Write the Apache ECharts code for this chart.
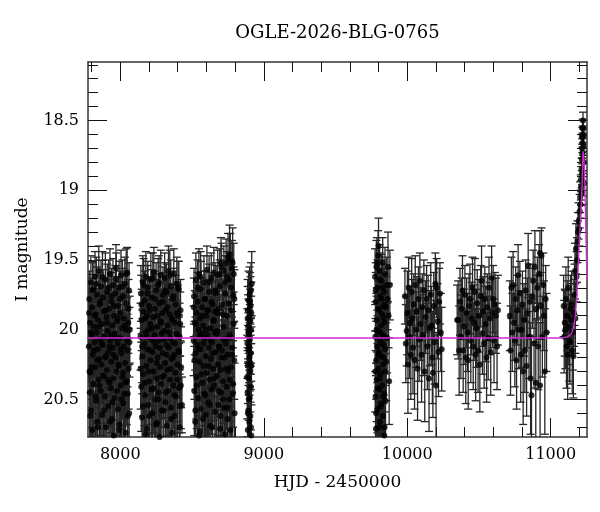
<!DOCTYPE html>
<html>
<head>
<meta charset="utf-8">
<title>OGLE-2026-BLG-0765</title>
<script src="https://cdn.jsdelivr.net/npm/echarts@6/dist/echarts.min.js"></script>
<style>
html, body { margin: 0; padding: 0; background: #fff; }
#chart { width: 600px; height: 512px; }
</style>
</head>
<body>
<div id="chart"></div>
<script>
// observations per season: [HJD - 2450000, I mag, error]
var obs2017 = [
    [7781,20.12,0.26],[7784,19.78,0.20],[7787,20.45,0.33],[7790,19.95,0.22],[7792,20.31,0.30],[7795,19.66,0.19],
    [7797,20.58,0.36],[7800,20.04,0.24],[7803,19.84,0.21],[7805,20.72,0.38],[7808,20.18,0.27],[7810,19.71,0.20],
    [7813,20.39,0.31],[7816,19.98,0.23],[7818,20.86,0.40],[7821,20.09,0.25],[7824,19.62,0.18],[7826,20.27,0.29],
    [7829,19.89,0.22],[7832,20.51,0.34],[7834,20.02,0.24],[7837,19.75,0.20],[7840,20.66,0.37],[7842,20.14,0.26],
    [7845,19.93,0.22],[7848,20.36,0.31],[7850,19.58,0.18],[7853,20.21,0.28],[7856,20.79,0.39],[7858,19.82,0.21],
    [7861,20.07,0.25],[7864,20.44,0.32],[7866,19.69,0.19],[7869,20.25,0.28],[7872,19.96,0.23],[7874,20.61,0.35],
    [7877,20.11,0.26],[7880,19.77,0.20],[7882,20.93,0.42],[7885,20.33,0.30],[7888,19.87,0.22],[7890,20.05,0.24],
    [7893,20.48,0.33],[7896,19.64,0.19],[7898,20.19,0.27],[7901,20.70,0.37],[7904,19.91,0.22],[7906,20.29,0.29],
    [7909,19.73,0.20],[7912,20.01,0.24],[7914,20.55,0.34],[7917,20.16,0.26],[7920,19.85,0.21],[7922,20.83,0.40],
    [7925,20.38,0.31],[7928,19.60,0.18],[7930,20.08,0.25],[7933,20.42,0.32],[7936,19.80,0.21],[7938,20.23,0.28],
    [7941,20.64,0.36],[7944,19.97,0.23],[7946,20.13,0.26],[7949,19.68,0.19],[7952,20.35,0.30],[7954,20.76,0.38],
    [7957,19.90,0.22],[7960,20.03,0.24],[7962,20.49,0.33],[7965,19.74,0.20],[7968,20.20,0.27],[7970,19.56,0.17],
    [7973,20.30,0.29],[7976,20.97,0.43],[7978,19.94,0.23],[7981,20.10,0.25],[7984,20.57,0.35],[7986,19.83,0.21],
    [7989,20.26,0.28],[7992,19.70,0.19],[7994,20.68,0.37],[7997,20.06,0.24],[8000,19.88,0.22],[8002,20.40,0.31],
    [8005,19.61,0.18],[8008,20.17,0.27],[8010,20.81,0.40],[8013,19.99,0.23],[8016,20.34,0.30],[8018,19.76,0.20],
    [8021,20.53,0.34],[8024,20.12,0.26],[8026,19.92,0.22],[8029,20.46,0.32],[8032,19.67,0.19],[8034,20.24,0.28],
    [8037,20.74,0.38],[8040,20.00,0.24],[8042,19.81,0.21],[8045,20.37,0.31],[8048,19.59,0.18],[8050,20.15,0.26],
    [8053,20.62,0.36],[8056,19.95,0.22],[8058,20.28,0.29],[8061,19.72,0.20],[8064,20.09,0.25],
    [7782.5,19.88,0.22],[7786,20.30,0.30],[7791,20.62,0.36],[7796,20.02,0.24],[7802,20.27,0.29],[7807,19.72,0.20],
    [7812,20.85,0.41],[7817,20.15,0.26],[7823,19.90,0.22],[7828,20.48,0.33],[7833,19.67,0.19],[7839,20.22,0.28],
    [7844,20.70,0.37],[7849,19.98,0.23],[7855,20.40,0.31],[7860,19.80,0.21],[7865,20.95,0.43],[7871,20.10,0.25],
    [7876,19.62,0.18],[7881,20.33,0.30],[7887,20.58,0.35],[7892,19.86,0.22],[7897,20.20,0.27],[7903,20.78,0.39],
    [7908,19.95,0.23],[7913,20.36,0.31],[7919,19.70,0.20],[7924,20.12,0.26],[7929,20.66,0.37],[7935,20.04,0.24],
    [7940,19.76,0.20],[7945,20.52,0.34],[7951,20.18,0.27],[7956,19.83,0.21],[7961,20.88,0.41],[7967,20.06,0.25],
    [7972,19.64,0.19],[7977,20.44,0.32],[7983,19.92,0.22],[7988,20.25,0.28],[7993,20.72,0.38],[7999,19.78,0.20],
    [8004,20.14,0.26],[8009,20.50,0.33],[8015,19.69,0.19],[8020,20.31,0.29],[8025,20.92,0.42],[8031,19.97,0.23],
    [8036,20.38,0.31],[8041,19.60,0.18],[8047,20.08,0.25],[8052,20.46,0.32],[8057,19.85,0.21],[8062,20.60,0.35],
    [8066,20.00,0.24]
];
var obs2018 = [
    [8141,20.05,0.24],[8144,19.74,0.20],[8146,20.41,0.32],[8149,19.93,0.22],[8152,20.63,0.36],[8154,20.19,0.27],
    [8157,19.66,0.19],[8160,20.32,0.30],[8162,19.87,0.22],[8165,20.88,0.41],[8168,20.10,0.25],[8170,19.79,0.21],
    [8173,20.47,0.33],[8176,20.02,0.24],[8178,19.62,0.18],[8181,20.26,0.28],[8184,20.71,0.38],[8186,19.90,0.22],
    [8189,20.14,0.26],[8192,19.70,0.19],[8194,20.54,0.34],[8197,20.00,0.24],[8200,19.83,0.21],[8202,20.37,0.31],
    [8205,20.80,0.39],[8208,19.96,0.23],[8210,20.22,0.28],[8213,19.64,0.19],[8216,20.43,0.32],[8218,20.07,0.25],
    [8221,19.77,0.20],[8224,20.60,0.35],[8226,20.16,0.26],[8229,19.91,0.22],[8232,20.30,0.29],[8234,19.59,0.18],
    [8237,20.94,0.42],[8240,20.04,0.24],[8242,19.85,0.21],[8245,20.50,0.33],[8248,20.12,0.26],[8250,19.72,0.20],
    [8253,20.35,0.30],[8256,20.67,0.37],[8258,19.98,0.23],[8261,20.20,0.27],[8264,19.68,0.19],[8266,20.45,0.32],
    [8269,20.08,0.25],[8272,19.81,0.21],[8274,20.77,0.39],[8277,20.27,0.28],[8280,19.94,0.23],[8282,19.61,0.18],
    [8285,20.39,0.31],[8288,20.03,0.24],[8290,20.58,0.35],[8293,19.88,0.22],[8296,20.17,0.26],[8298,19.75,0.20],
    [8301,20.85,0.40],[8304,20.33,0.30],[8306,20.01,0.24],[8309,19.63,0.18],[8312,20.24,0.28],[8314,20.52,0.34],
    [8317,19.86,0.22],[8320,20.11,0.25],[8322,19.73,0.20],[8325,20.69,0.37],[8328,20.29,0.29],[8330,19.97,0.23],
    [8333,20.44,0.32],[8336,19.58,0.18],[8338,20.13,0.26],[8341,20.90,0.42],[8344,19.89,0.22],[8346,20.36,0.30],
    [8349,20.06,0.24],[8352,19.69,0.19],[8354,20.56,0.35],[8357,20.21,0.27],[8360,19.92,0.22],[8362,20.74,0.38],
    [8365,20.09,0.25],[8368,19.78,0.20],[8370,20.40,0.31],[8373,19.60,0.18],[8376,20.18,0.27],[8378,20.62,0.36],
    [8381,19.95,0.23],[8384,20.31,0.29],[8386,19.82,0.21],[8389,20.48,0.33],[8392,20.03,0.24],[8394,19.67,0.19],
    [8397,20.25,0.28],[8400,20.83,0.40],[8402,19.90,0.22],[8405,20.15,0.26],[8408,19.71,0.20],[8410,20.42,0.32],
    [8413,20.05,0.24],[8416,20.55,0.36],[8420,19.86,0.22],[8424,20.27,0.29],[8430,20.54,0.20],
    [8142,20.28,0.29],[8147,19.82,0.21],[8153,20.12,0.26],[8158,20.55,0.34],[8163,19.68,0.19],[8169,20.38,0.31],
    [8174,19.92,0.22],[8179,20.75,0.39],[8185,20.05,0.24],[8190,19.74,0.20],[8195,20.30,0.29],[8201,20.62,0.36],
    [8206,19.86,0.22],[8211,20.15,0.26],[8217,20.84,0.40],[8222,19.99,0.23],[8227,19.63,0.18],[8233,20.42,0.32],
    [8238,20.09,0.25],[8243,19.78,0.20],[8249,20.68,0.37],[8254,20.24,0.28],[8259,19.90,0.22],[8265,20.50,0.33],
    [8270,19.66,0.19],[8275,20.13,0.26],[8281,20.92,0.42],[8286,19.95,0.23],[8291,20.34,0.30],[8297,19.80,0.21],
    [8302,20.58,0.35],[8307,20.07,0.25],[8313,19.72,0.20],[8318,20.45,0.32],[8323,20.18,0.27],[8329,19.84,0.21],
    [8334,20.79,0.39],[8339,20.02,0.24],[8345,19.61,0.18],[8350,20.28,0.29],[8355,20.64,0.36],[8361,19.93,0.22],
    [8366,20.20,0.27],[8371,19.76,0.20],[8377,20.47,0.33],[8382,20.10,0.25],[8387,20.86,0.41],[8393,19.88,0.22],
    [8398,20.36,0.30],[8403,19.70,0.19],[8409,20.16,0.26],[8414,20.70,0.38],[8418,19.96,0.23],[8422,20.40,0.31]
];
var obs2019 = [
    [8511,20.08,0.25],[8514,19.76,0.20],[8516,20.44,0.32],[8519,19.95,0.23],[8522,20.66,0.37],[8524,20.17,0.26],
    [8527,19.64,0.19],[8530,20.34,0.30],[8532,19.88,0.22],[8535,20.86,0.41],[8538,20.11,0.25],[8540,19.80,0.21],
    [8543,20.49,0.33],[8546,20.00,0.24],[8548,19.60,0.18],[8551,20.23,0.28],[8554,20.73,0.38],[8556,19.92,0.22],
    [8559,20.14,0.26],[8562,19.71,0.20],[8564,20.57,0.35],[8567,20.03,0.24],[8570,19.84,0.21],[8572,20.38,0.31],
    [8575,20.95,0.43],[8578,19.97,0.23],[8580,20.26,0.28],[8583,19.66,0.19],[8586,20.46,0.32],[8588,20.06,0.25],
    [8591,19.78,0.20],[8594,20.61,0.36],[8596,20.19,0.27],[8599,19.90,0.22],[8602,20.31,0.29],[8604,19.57,0.17],
    [8607,20.80,0.40],[8610,20.04,0.24],[8612,19.86,0.21],[8615,20.52,0.34],[8618,20.13,0.26],[8620,19.73,0.20],
    [8623,20.36,0.30],[8626,20.69,0.37],[8628,19.99,0.23],[8631,20.21,0.28],[8634,19.63,0.18],[8636,20.43,0.32],
    [8639,20.09,0.25],[8642,19.82,0.21],[8644,20.78,0.39],[8647,20.28,0.29],[8650,19.94,0.23],[8652,19.59,0.18],
    [8655,20.40,0.31],[8658,20.02,0.24],[8660,20.59,0.35],[8663,19.87,0.22],[8666,20.16,0.26],[8668,19.74,0.20],
    [8671,20.89,0.42],[8674,20.33,0.30],[8676,20.01,0.24],[8679,19.61,0.18],[8682,20.25,0.28],[8684,20.54,0.34],
    [8687,19.85,0.21],[8690,20.12,0.26],[8692,19.69,0.19],[8695,20.71,0.38],[8698,20.29,0.29],[8702,19.52,0.18],
    [8703,20.45,0.32],[8706,19.55,0.17],[8708,20.15,0.26],[8711,20.92,0.42],[8714,19.89,0.22],[8716,20.37,0.30],
    [8719,20.07,0.24],[8722,19.58,0.18],[8724,20.56,0.35],[8727,20.20,0.27],[8730,19.66,0.19],[8732,20.75,0.38],
    [8735,20.10,0.25],[8738,19.52,0.17],[8740,20.41,0.31],[8743,19.62,0.18],[8746,20.18,0.27],[8748,20.64,0.36],
    [8751,19.48,0.17],[8754,20.30,0.29],[8756,19.81,0.21],[8759,20.50,0.33],[8762,19.46,0.21],[8764,20.04,0.24],
    [8767,19.50,0.19],[8770,20.27,0.28],[8772,19.70,0.20],[8775,20.84,0.40],[8778,19.56,0.20],[8780,20.13,0.26],
    [8783,19.52,0.25],[8786,20.39,0.31],[8788,19.75,0.20],[8791,19.60,0.22],[8794,20.22,0.28],[8797,20.60,0.36],
    [8512,19.84,0.21],[8517,20.22,0.28],[8523,20.58,0.35],[8528,19.96,0.23],[8533,20.40,0.31],[8539,19.70,0.20],
    [8544,20.14,0.26],[8549,20.76,0.39],[8555,20.04,0.24],[8560,19.62,0.18],[8565,20.32,0.30],[8571,19.90,0.22],
    [8576,20.64,0.36],[8581,20.10,0.25],[8587,19.78,0.20],[8592,20.47,0.33],[8597,20.00,0.24],[8603,20.86,0.41],
    [8608,19.86,0.22],[8613,20.26,0.28],[8619,19.66,0.19],[8624,20.54,0.34],[8629,20.08,0.25],[8635,19.80,0.21],
    [8640,20.70,0.38],[8645,20.17,0.26],[8651,19.93,0.22],[8656,20.35,0.30],[8661,19.72,0.20],[8667,20.90,0.42],
    [8672,20.03,0.24],[8677,19.88,0.22],[8683,20.44,0.32],[8688,20.12,0.26],[8693,19.60,0.18],[8699,20.62,0.36],
    [8704,20.20,0.27],[8709,19.82,0.21],[8715,20.50,0.33],[8720,19.98,0.23],[8725,20.80,0.40],[8731,19.74,0.20],
    [8736,20.28,0.29],[8741,19.90,0.22],[8747,20.56,0.35],[8752,20.06,0.25],[8757,19.64,0.19],[8763,20.36,0.30],
    [8768,20.72,0.38],[8773,19.86,0.22],[8779,20.18,0.27],[8784,20.46,0.33],[8789,19.96,0.23],[8795,19.78,0.21]
];
var obs2020 = [
    [8886,20.10,0.25],[8887,20.45,0.32],[8888,19.86,0.22],[8889,20.72,0.38],[8890,20.25,0.28],[8891,19.98,0.23],
    [8892,20.58,0.35],[8893,20.14,0.26],[8894,19.79,0.21],[8895,20.88,0.41],[8896,20.35,0.30],[8897,20.03,0.24],
    [8898,19.91,0.22],[8899,20.66,0.37],[8900,20.20,0.27],[8901,19.75,0.20],[8902,20.49,0.33],[8903,20.07,0.25],
    [8904,20.80,0.39],[8905,19.94,0.23],[8906,20.30,0.29],[8907,20.62,0.36],[8908,19.83,0.21],[8909,20.17,0.26],
    [8910,20.41,0.31],[8911,19.72,0.20],[8912,20.00,0.24],[8913,20.76,0.39],[8914,20.26,0.28],[8916,19.67,0.23],
    [8885,20.34,0.30],[8887.5,19.92,0.23],[8889.5,20.60,0.36],[8892.5,20.02,0.24],[8895.5,20.50,0.33],
    [8898.5,20.12,0.26],[8901.5,20.84,0.40],[8904.5,19.80,0.21],[8907.5,20.24,0.28],[8910.5,20.70,0.38],
    [8913.5,19.88,0.22]
];
var obs2022 = [
    [9776,19.62,0.20],[9778,20.05,0.25],[9779,20.48,0.33],[9781,19.80,0.21],[9782,20.71,0.38],[9784,20.22,0.28],
    [9785,19.55,0.19],[9787,20.36,0.30],[9788,19.93,0.23],[9790,20.84,0.40],[9791,20.12,0.26],[9793,19.70,0.20],
    [9794,20.57,0.35],[9796,20.01,0.24],[9797,19.47,0.18],[9799,20.28,0.29],[9800,19.40,0.20],[9802,20.93,0.42],
    [9803,20.16,0.26],[9805,19.86,0.22],[9806,20.43,0.32],[9808,19.58,0.19],[9809,20.66,0.37],[9811,20.08,0.25],
    [9812,19.76,0.20],[9814,20.32,0.30],[9815,20.98,0.43],[9817,19.97,0.23],[9818,20.53,0.34],[9820,19.65,0.19],
    [9821,20.19,0.27],[9823,20.78,0.39],[9824,19.89,0.22],[9826,20.40,0.31],[9827,20.04,0.24],[9829,19.52,0.18],
    [9830,20.62,0.36],[9832,20.25,0.28],[9833,19.83,0.21],[9835,20.88,0.41],[9836,20.11,0.26],[9838,19.73,0.20],
    [9839,20.46,0.32],[9841,19.95,0.23],[9842,20.70,0.38],[9844,20.30,0.29],[9845,19.60,0.19],[9847,20.14,0.26],
    [9849,20.51,0.34],[9851,19.84,0.22],[9854,20.23,0.28],[9857,19.68,0.20],[9860,20.06,0.25],[9863,19.78,0.22],
    [9866,19.55,0.25],[9870,19.90,0.23],[9874,20.37,0.31],[9879,19.68,0.25],
    [9777,20.30,0.29],[9780,19.72,0.20],[9783,20.60,0.36],[9786,20.00,0.24],[9789,19.52,0.18],[9792,20.42,0.32],
    [9795,20.86,0.41],[9798,19.85,0.22],[9801,20.18,0.27],[9804,20.70,0.38],[9807,19.64,0.19],[9810,20.35,0.30],
    [9813,20.02,0.24],[9816,20.55,0.34],[9819,19.78,0.21],[9822,20.95,0.43],[9825,20.10,0.25],[9828,19.70,0.20],
    [9831,20.48,0.33],[9834,20.20,0.27],[9837,19.92,0.22],[9840,20.76,0.39],[9843,20.05,0.25],[9846,19.82,0.22]
];
var obs2023 = [
    [9984,19.76,0.20],[9990,20.10,0.28],[9996,20.01,0.25],[10001,19.88,0.30],[10005,20.25,0.35],[10010,19.70,0.22],
    [10015,20.05,0.30],[10020,19.95,0.26],[10025,20.18,0.32],[10031,19.73,0.24],[10035,19.92,0.28],[10040,20.13,0.33],
    [10046,19.82,0.22],[10051,20.22,0.35],[10056,19.68,0.21],[10062,20.00,0.27],[10067,19.87,0.25],[10072,20.28,0.37],
    [10078,19.78,0.23],[10083,20.07,0.30],[10088,19.65,0.20],[10094,19.96,0.26],[10100,20.18,0.34],[10105,19.84,0.24],
    [10111,20.04,0.29],[10116,19.72,0.22],[10122,20.30,0.36],[10128,19.91,0.26],[10135,19.78,0.24],[10140,20.12,0.31],
    [10146,19.86,0.25],[10152,20.35,0.38],[10158,19.99,0.27],[10164,19.75,0.23],[10170,19.97,0.28],[10175,20.20,0.33],
    [10179,20.31,0.32],[10185,19.83,0.24],[10190,20.09,0.30],[10196,19.67,0.22],[10201,20.40,0.38],[10205,19.70,0.21],
    [10212,19.94,0.27],[10218,20.16,0.32],[10223,19.80,0.24],[10228,19.74,0.22],[10234,20.02,0.28],[10240,20.14,0.30]
];
var obs2024 = [
    [10348,19.93,0.25],[10355,19.93,0.28],[10362,20.15,0.32],[10368,19.80,0.24],[10374,20.05,0.30],[10379,19.85,0.22],
    [10385,19.72,0.25],[10390,20.15,0.30],[10396,19.98,0.27],[10402,19.75,0.21],[10408,20.20,0.33],[10414,19.88,0.25],
    [10420,20.02,0.28],[10425,20.22,0.35],[10431,19.83,0.23],[10437,19.78,0.25],[10443,20.08,0.30],[10449,19.92,0.26],
    [10455,19.70,0.22],[10460,20.12,0.31],[10466,19.95,0.27],[10471,19.73,0.24],[10477,20.18,0.33],[10483,19.99,0.28],
    [10488,19.81,0.24],[10494,20.15,0.30],[10500,19.90,0.26],[10506,20.25,0.34],[10512,19.76,0.22],[10518,19.65,0.25],
    [10524,20.03,0.29],[10530,19.87,0.25],[10536,20.10,0.32],[10541,19.78,0.23],[10547,19.96,0.27],[10553,20.20,0.32],
    [10558,19.84,0.24],[10564,20.06,0.30],[10570,19.70,0.22],[10576,19.92,0.26],[10582,20.16,0.31],[10588,19.63,0.23],
    [10594,19.88,0.25],[10599,19.78,0.24],[10605,20.08,0.30],[10611,19.82,0.23],[10618,19.90,0.27],[10626,20.12,0.31],
    [10632,19.86,0.25]
];
var obs2025 = [
    [10715,19.90,0.25],[10720,20.15,0.32],[10726,19.70,0.22],[10732,20.02,0.28],[10738,19.68,0.24],[10744,19.95,0.27],
    [10750,20.08,0.33],[10756,19.78,0.23],[10762,20.22,0.35],[10767,19.86,0.25],[10773,19.61,0.22],[10779,20.00,0.28],
    [10785,19.74,0.23],[10791,20.18,0.34],[10797,20.00,0.27],[10803,19.82,0.24],[10808,20.30,0.38],[10814,19.93,0.26],
    [10820,20.15,0.30],[10826,19.72,0.22],[10832,20.26,0.36],[10837,19.88,0.25],[10843,19.54,0.23],[10849,20.05,0.30],
    [10855,19.80,0.24],[10860,20.35,0.40],[10866,20.47,0.42],[10872,19.76,0.23],[10878,19.65,0.22],[10884,20.10,0.32],
    [10890,19.55,0.26],[10896,20.38,0.45],[10901,19.85,0.24],[10907,19.70,0.22],[10913,20.12,0.31],[10919,19.60,0.21],
    [10925,19.45,0.16],[10926,20.40,0.45],[10931,19.83,0.24],[10936,19.47,0.20],[10942,20.05,0.29],[10948,19.68,0.23],
    [10953,19.90,0.25],[10959,20.30,0.45],[10965,19.78,0.24],[10971,20.02,0.28]
];
var obs2026 = [
    [11090,19.83,0.22],[11094,20.05,0.26],[11098,19.95,0.24],[11102,20.00,0.28],[11106,19.78,0.23],[11110,20.12,0.30],
    [11114,19.90,0.25],[11118,20.18,0.32],[11122,19.70,0.22],[11126,19.98,0.27],[11130,20.08,0.29],[11134,20.09,0.30],
    [11138,19.85,0.24],[11142,19.93,0.26],[11146,19.82,0.24],[11150,20.15,0.31],[11154,20.02,0.27],[11158,20.19,0.30],
    [11162,19.88,0.24],[11166,19.75,0.22],[11169,19.58,0.20],[11172,19.92,0.25],[11176,19.42,0.18],[11180,19.62,0.18],
    [11184,19.50,0.16],[11186,19.37,0.15],[11190,19.30,0.14],[11194,19.22,0.13],[11198,19.28,0.12],[11202,19.15,0.12],
    [11205,19.05,0.11],[11208,19.10,0.10],[11210,18.98,0.09],[11212,18.92,0.09],[11214,19.02,0.09],[11215,18.85,0.08],
    [11217,18.78,0.08],[11218,18.88,0.08],[11219,18.70,0.07],[11220,18.74,0.07],[11221,18.62,0.07],[11222,18.66,0.07],
    [11223,18.55,0.06],[11224,18.60,0.06],[11225,18.50,0.06],[11226,18.56,0.06],[11228,18.68,0.07],[11230,18.80,0.08],
    [11232,18.95,0.09]
];

// model light curve
var modelCurve = [
    [7775,20.06],[11080,20.06],[11120,20.05],[11145,20.03],[11160,19.98],[11172,19.90],[11182,19.75],[11190,19.58],
    [11198,19.40],[11206,19.25],[11213,19.10],[11219,18.95],[11223,18.80],[11226,18.72],[11229,18.73],[11233,18.80],
    [11238,18.95],[11243,19.20],[11248,19.45],[11253,19.65]
];

var xMajorTicks = [8000, 9000, 10000, 11000];
var xMinorTicks = [7800, 8200, 8400, 8600, 8800, 9200, 9400, 9600, 9800, 10200, 10400, 10600, 10800, 11200];
var yMajorTicks = [18.5, 19, 19.5, 20, 20.5];
var yMinorTicks = [18.1, 18.2, 18.3, 18.4, 18.6, 18.7, 18.8, 18.9, 19.1, 19.2, 19.3, 19.4,
                   19.6, 19.7, 19.8, 19.9, 20.1, 20.2, 20.3, 20.4, 20.6, 20.7];

var X_MIN = 7775, X_MAX = 11253;
var Y_MIN = 18.08, Y_MAX = 20.77;
var FONT = 'DejaVu Serif';

var allObs = [].concat(obs2017, obs2018, obs2019, obs2020, obs2022, obs2023, obs2024, obs2025, obs2026);
var points = allObs.map(function(d) { return [d[0], d[1]]; });

function frameAxis(kind, pos, ticks, len, showLine) {
    return {
        type: 'value',
        position: pos,
        min: kind == 'x' ? X_MIN : Y_MIN,
        max: kind == 'x' ? X_MAX : Y_MAX,
        inverse: kind == 'y',
        axisLine: {show: showLine, onZero: false, lineStyle: {color: '#333', width: 1.5}},
        axisTick: {show: true, inside: true, length: len, customValues: ticks,
                   lineStyle: {color: '#111', width: 1}},
        axisLabel: {show: false},
        splitLine: {show: false}
    };
}

var xBottom = frameAxis('x', 'bottom', xMajorTicks, 19, true);
xBottom.axisLabel = {show: true, customValues: xMajorTicks, margin: 10,
                     color: '#000', fontFamily: FONT, fontSize: 16,
                     formatter: function(v) { return String(v); }};
xBottom.name = 'HJD - 2450000';
xBottom.nameLocation = 'middle';
xBottom.nameGap = 37;
xBottom.nameTextStyle = {color: '#000', fontFamily: FONT, fontSize: 17};

var yLeft = frameAxis('y', 'left', yMajorTicks, 19, true);
yLeft.axisLabel = {show: true, customValues: yMajorTicks, margin: 9,
                   color: '#000', fontFamily: FONT, fontSize: 16,
                   formatter: function(v) { return String(v); }};
yLeft.name = 'I magnitude';
yLeft.nameLocation = 'middle';
yLeft.nameGap = 57;
yLeft.nameTextStyle = {color: '#000', fontFamily: FONT, fontSize: 17};

function renderErrorBar(params, api) {
    var t = api.value(0), m = api.value(1), e = api.value(2);
    var top = api.coord([t, m - e]);
    var bot = api.coord([t, m + e]);
    var w = 4;
    var style = {stroke: '#262626', lineWidth: 1.3, fill: null};
    return {
        type: 'group',
        children: [
            {type: 'line', shape: {x1: top[0], y1: top[1], x2: bot[0], y2: bot[1]}, style: style},
            {type: 'line', shape: {x1: top[0] - w, y1: top[1], x2: top[0] + w, y2: top[1]}, style: style},
            {type: 'line', shape: {x1: bot[0] - w, y1: bot[1], x2: bot[0] + w, y2: bot[1]}, style: style}
        ]
    };
}

var myChart = echarts.init(document.getElementById('chart'));
myChart.setOption({
    animation: false,
    backgroundColor: '#fff',
    title: {
        text: 'OGLE-2026-BLG-0765',
        left: 337.5,
        top: 24,
        padding: 0,
        textAlign: 'center',
        textStyle: {color: '#000', fontFamily: FONT, fontSize: 18, fontWeight: 'normal'}
    },
    grid: {left: 88, right: 13, top: 62, bottom: 75},
    xAxis: [
        xBottom,
        frameAxis('x', 'bottom', xMinorTicks, 10, false),
        frameAxis('x', 'top', xMajorTicks, 19, true),
        frameAxis('x', 'top', xMinorTicks, 10, false)
    ],
    yAxis: [
        yLeft,
        frameAxis('y', 'left', yMinorTicks, 10, false),
        frameAxis('y', 'right', yMajorTicks, 19, true),
        frameAxis('y', 'right', yMinorTicks, 10, false)
    ],
    series: [
        {
            type: 'custom',
            name: 'errors',
            data: allObs,
            dimensions: ['hjd', 'mag', 'err'],
            encode: {x: 0, y: 1},
            renderItem: renderErrorBar,
            clip: true,
            silent: true,
            z: 2
        },
        {
            type: 'scatter',
            name: 'OGLE',
            data: points,
            symbol: 'circle',
            symbolSize: 6,
            itemStyle: {color: '#000'},
            clip: true,
            silent: true,
            z: 3
        },
        {
            type: 'line',
            name: 'model',
            data: modelCurve,
            showSymbol: false,
            lineStyle: {color: '#d42bd4', width: 1.3},
            clip: true,
            silent: true,
            z: 5
        }
    ]
});
</script>
</body>
</html>
